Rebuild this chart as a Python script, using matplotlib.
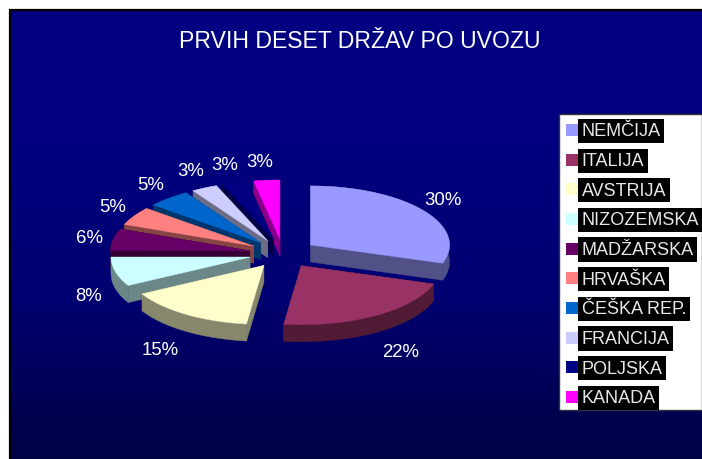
import numpy as np
import matplotlib
matplotlib.use("Agg")
import matplotlib.pyplot as plt
from matplotlib.patches import Polygon, Rectangle
from matplotlib.colors import LinearSegmentedColormap

countries = ["NEMČIJA", "ITALIJA", "AVSTRIJA", "NIZOZEMSKA", "MADŽARSKA",
             "HRVAŠKA", "ČEŠKA REP.", "FRANCIJA", "POLJSKA", "KANADA"]
shares = [30, 22, 15, 8, 6, 5, 5, 3, 3, 3]
colors = ["#9999FF", "#993366", "#FFFFCC", "#CCFFFF", "#660066",
          "#FF8080", "#0066CC", "#CCCCFF", "#000080", "#FF00FF"]
title = "PRVIH DESET DRŽAV PO UVOZU"

FONT = "Liberation Sans"
W, H = 702, 460
cx, cy = 283.0, 254.5      # pie centre, pixels
rx, tilt = 139.0, 0.425    # radius and vertical squash
explode = 34.0
depth = 17.0
shade = 0.53

fig = plt.figure(figsize=(W / 100, H / 100), dpi=100, facecolor="white")
ax = fig.add_axes([0, 0, 1, 1])
ax.axis("off")

# background gradient and frame
cmap = LinearSegmentedColormap.from_list(
    "bg", [(0, "#000080"), (0.3, "#000080"), (0.65, "#000070"), (1, "#000044")])
ax.imshow(np.linspace(0, 1, 256)[:, None], cmap=cmap, aspect="auto",
          extent=(9, W, H, 10), zorder=0, vmin=0, vmax=1)
ax.set_xlim(0, W)
ax.set_ylim(H, 0)
ax.plot([9.5, 9.5, W], [H, 10.5, 10.5], color="black", lw=1.6, zorder=1,
        solid_joinstyle="miter")

total = sum(shares)
edges = np.cumsum([0] + shares) / total * 2 * np.pi
items = []
for i, share in enumerate(shares):
    a0, a1 = edges[i], edges[i + 1]
    mid = (a0 + a1) / 2
    px = cx + explode * np.sin(mid)
    py = cy - explode * tilt * np.cos(mid)
    items.append((i, a0, a1, mid, px, py))

for i, a0, a1, mid, px, py in sorted(items, key=lambda t: t[5]):
    th = np.linspace(a0, a1, 60)
    ex = px + rx * np.sin(th)
    ey = py - rx * tilt * np.cos(th)
    rgb = np.array(matplotlib.colors.to_rgb(colors[i]))
    side = tuple(rgb * shade)
    for ox, oy in ((ex[0], ey[0]), (ex[-1], ey[-1])):
        quad = [(px, py), (ox, oy), (ox, oy + depth), (px, py + depth)]
        ax.add_patch(Polygon(quad, closed=True, facecolor=side, edgecolor=side,
                             lw=0.3, zorder=2))
    rim = np.r_[np.c_[ex, ey], np.c_[ex, ey + depth][::-1]]
    ax.add_patch(Polygon(rim, closed=True, facecolor=side, edgecolor=side,
                         lw=0.3, zorder=2))
    top = np.r_[[[px, py]], np.c_[ex, ey]]
    ax.add_patch(Polygon(top, closed=True, facecolor=colors[i],
                         edgecolor=colors[i], lw=0.3, zorder=2))

# percentage labels
for i, a0, a1, mid, px, py in items:
    s, c = np.sin(mid), np.cos(mid)
    lx = cx + 192 * s + np.sign(s) * (5 + 12 * max(0.0, -c))
    ly = cy - 94.3 * c + 1.5
    if c < 0:
        ly += depth
    ax.text(lx, ly, f"{shares[i]}%", color="white", fontsize=13.4, family=FONT,
            ha="center", va="center", zorder=3)

ax.text(360, 41, title, color="white", fontsize=16.6, family=FONT,
        ha="center", va="center", zorder=3)

# legend
ax.add_patch(Rectangle((559, 115), W - 559, 296, facecolor="white",
                       edgecolor="#333333", lw=1.0, zorder=3))
row0, step = 131.0, 29.65
for i, name in enumerate(countries):
    y = row0 + i * step
    ax.add_patch(Rectangle((566, y - 6), 12, 12, facecolor=colors[i],
                           edgecolor="none", zorder=4))
    ax.text(581.5, y + 1, name, color="#E8E8E8", fontsize=13, family=FONT,
            ha="left", va="center", zorder=5,
            bbox=dict(facecolor="black", edgecolor="none", pad=2.6))

fig.savefig("out.png", dpi=100, facecolor="white")
